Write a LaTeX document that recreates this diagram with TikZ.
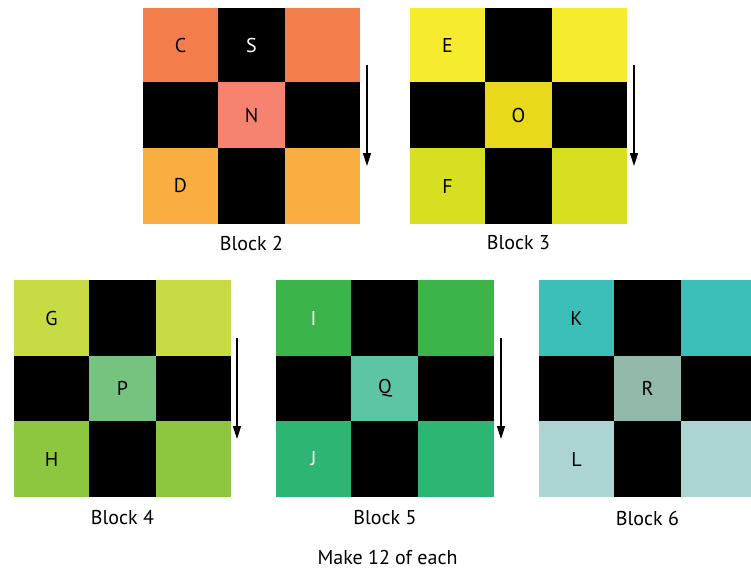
\documentclass[tikz,border=0pt]{standalone}
\usepackage{fontspec}
\setmainfont{PT Sans}
\usetikzlibrary{arrows.meta}
\definecolor{btwotop}{HTML}{F37E4B}
\definecolor{btwomid}{HTML}{F58370}
\definecolor{btwobot}{HTML}{FBAE40}
\definecolor{bthreetop}{HTML}{F7EB30}
\definecolor{bthreemid}{HTML}{E9D91B}
\definecolor{bthreebot}{HTML}{D8DF21}
\definecolor{bfourtop}{HTML}{C8DB44}
\definecolor{bfourmid}{HTML}{76C37F}
\definecolor{bfourbot}{HTML}{8DC63F}
\definecolor{bfivetop}{HTML}{3BB44A}
\definecolor{bfivemid}{HTML}{5EC4A6}
\definecolor{bfivebot}{HTML}{2DB574}
\definecolor{bsixtop}{HTML}{3DBFB9}
\definecolor{bsixmid}{HTML}{93B9AA}
\definecolor{bsixbot}{HTML}{ACD4D1}
% #1..#4 column edges, #5..#8 row edges, #9 colour prefix
\newcommand\myblockgrid[9]{%
  \fill[black] (#1,#5) rectangle (#4,#8);
  \fill[#9top] (#1,#5) rectangle (#2,#6);
  \fill[#9top] (#3,#5) rectangle (#4,#6);
  \fill[#9mid] (#2,#6) rectangle (#3,#7);
  \fill[#9bot] (#1,#7) rectangle (#2,#8);
  \fill[#9bot] (#3,#7) rectangle (#4,#8);
}
\begin{document}
\begin{tikzpicture}[x=1pt,y=-1pt,
  lbl/.style={font=\fontsize{20}{24}\selectfont, text=black, inner sep=0pt},
  wlbl/.style={lbl, text=white},
  blockcap/.style={font=\fontsize{20}{24}\selectfont, text=black, inner sep=0pt},
  flow/.style={line width=1.5pt, -{Triangle[length=13pt,width=8pt]}}]
\useasboundingbox (0,0) rectangle (751,570);
\fill[white] (0,0) rectangle (751,570);

% Block 2
\myblockgrid{143}{218}{285}{360}{8}{82}{148}{224}{btwo}
\node[lbl] (c) at (180.5,45) {C};
\node[wlbl] (s) at (251.5,45) {S};
\node[lbl] (n) at (251.5,115) {N};
\node[lbl] (d) at (180.5,186) {D};
\coordinate (a2s) at (367,65);
\coordinate (a2e) at (367,166);
\draw[flow] (a2s) -- (a2e);
\node[blockcap] (b2) at (251.5,243) {Block 2};

% Block 3
\myblockgrid{410}{485}{552}{627}{8}{82}{148}{224}{bthree}
\node[lbl] (e) at (447.5,45) {E};
\node[lbl] (o) at (518.5,115) {O};
\node[lbl] (f) at (447.5,186) {F};
\coordinate (a3s) at (634,65);
\coordinate (a3e) at (634,166);
\draw[flow] (a3s) -- (a3e);
\node[blockcap] (b3) at (518.5,243) {Block 3};

% Block 4
\myblockgrid{14}{89}{156}{231}{280}{356}{421}{497}{bfour}
\node[lbl] (g) at (51.5,318) {G};
\node[lbl] (p) at (122.5,388) {P};
\node[lbl] (h) at (51.5,459) {H};
\coordinate (a4s) at (237,338);
\coordinate (a4e) at (237,439);
\draw[flow] (a4s) -- (a4e);
\node[blockcap] (b4) at (122.5,518) {Block 4};

% Block 5
\myblockgrid{276}{351}{418}{494}{280}{356}{421}{497}{bfive}
\node[wlbl] (i) at (313.5,318) {I};
\node[lbl] (q) at (385,388) {Q};
\node[wlbl] (j) at (313.5,459) {J};
\coordinate (a5s) at (501,338);
\coordinate (a5e) at (501,439);
\draw[flow] (a5s) -- (a5e);
\node[blockcap] (b5) at (385,518) {Block 5};

% Block 6
\myblockgrid{539}{614}{681}{756}{280}{356}{421}{497}{bsix}
\node[lbl] (k) at (576.5,318) {K};
\node[lbl] (r) at (647.5,388) {R};
\node[lbl] (l) at (576.5,459) {L};
\node[blockcap] (b6) at (647.5,518) {Block 6};

\node[blockcap] (make) at (387.5,557) {Make 12 of each};
\end{tikzpicture}
\end{document}
